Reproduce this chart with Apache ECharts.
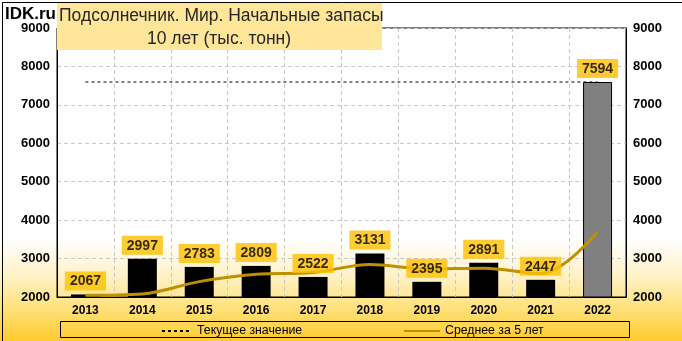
<!DOCTYPE html>
<html><head><meta charset="utf-8">
<script src="https://cdn.jsdelivr.net/npm/echarts@6/dist/echarts.min.js"></script>
<style>html,body{margin:0;padding:0;background:#fff}#c{width:682px;height:341px}</style>
</head><body><div id="c"></div>
<script>
const years = ['2013','2014','2015','2016','2017','2018','2019','2020','2021','2022'];
const stocks = [2067,2997,2783,2809,2522,3131,2395,2891,2447,7594];
const currentValue = [7594,7594,7594,7594,7594,7594,7594,7594,7594,7594];
const avg5 = [2045,2080,2400,2590,2636,2848,2728,2750,2610,3692];
const yTicks = [2000,3000,4000,5000,6000,7000,8000,9000];

const chart = echarts.init(document.getElementById('c'), null, {renderer:'canvas'});
const axisFont = {fontFamily:'Liberation Sans', fontWeight:'bold', fontSize:13, color:'#000', formatter:v=>String(v)};
const barData = stocks.map((v,i)=> i===stocks.length-1
  ? {value:v, itemStyle:{color:'#808080', borderColor:'#000', borderWidth:1}}
  : {value:v});
chart.setOption({
  animation:false,
  backgroundColor:{type:'linear',x:0,y:0,x2:0,y2:1,colorStops:[
    {offset:0,color:'#ffffff'},{offset:0.7,color:'#ffffff'},
    {offset:0.8,color:'#FFF3CC'},{offset:0.9,color:'#FFE27E'},{offset:1,color:'#FFCB2E'}]},
  grid:{left:57,right:56,top:28,bottom:44,show:true,borderColor:'#000',borderWidth:1,backgroundColor:'transparent'},
  xAxis:{type:'category',data:years,boundaryGap:true,
    axisLine:{lineStyle:{color:'#000'}},axisTick:{show:false},
    axisLabel:{margin:8,fontSize:12,fontFamily:'Liberation Sans',fontWeight:'bold',color:'#000'},
    splitLine:{show:true,lineStyle:{color:'#c8c8c8',type:[4,3]}}},
  yAxis:[
    {type:'value',min:2000,max:9000,interval:1000,position:'left',
     axisLine:{show:true,lineStyle:{color:'#000'}},axisTick:{show:false},
     axisLabel:Object.assign({margin:7},axisFont),
     splitLine:{show:true,lineStyle:{color:'#c8c8c8',type:[4,3]}}},
    {type:'value',min:2000,max:9000,interval:1000,position:'right',
     axisLine:{show:true,lineStyle:{color:'#000'}},axisTick:{show:false},
     axisLabel:Object.assign({margin:7},axisFont),splitLine:{show:false}}
  ],
  legend:[
    {data:['Текущее значение'],left:156,top:320,itemWidth:30,itemHeight:8,itemGap:6,
     itemStyle:{opacity:0},
     textStyle:{fontFamily:'Liberation Sans',fontSize:12.3,color:'#000'}},
    {data:['Среднее за 5 лет'],left:398,top:320,itemWidth:36,itemHeight:8,itemGap:4,
     itemStyle:{opacity:0},
     textStyle:{fontFamily:'Liberation Sans',fontSize:12.3,color:'#000'}}
  ],
  series:[
    {name:'Текущее значение',type:'line',data:currentValue,symbol:'none',z:1,
     lineStyle:{color:'#000',width:1,type:[3,3]},itemStyle:{color:'#000'}},
    {name:'Запасы',type:'bar',data:barData,barWidth:29,z:2,itemStyle:{color:'#000'}},
    {name:'Среднее за 5 лет',type:'line',data:avg5,symbol:'none',smooth:0.35,z:3,
     lineStyle:{color:'#BF9000',width:3},itemStyle:{color:'#BF9000'}},
    {name:'labels',type:'scatter',data:stocks,symbolSize:0,z:5,silent:true,
     label:{show:true,position:'top',distance:4,backgroundColor:'#FFC000',
       padding:[3,5,2,5],fontFamily:'Liberation Sans',fontWeight:'bold',fontSize:14,color:'#000'}}
  ],
  graphic:[
    {type:'rect',left:0,top:0,shape:{width:681,height:340},style:{fill:'none',stroke:'#000',lineWidth:1},z:100},
    {type:'rect',left:57,top:2,shape:{width:325,height:48},style:{fill:'#FFE699'},z:50},
    {type:'text',x:59,y:7,style:{text:'Подсолнечник. Мир. Начальные запасы',fontFamily:'Liberation Sans',fontSize:17.5,fill:'#262626'},z:51},
    {type:'text',x:219,y:30,style:{text:'10 лет (тыс. тонн)',fontFamily:'Liberation Sans',fontSize:17.5,fill:'#262626',align:'center'},z:51},
    {type:'text',x:5,y:6,style:{text:'IDK.ru',fontFamily:'Liberation Sans',fontWeight:'bold',fontSize:17,fill:'#000'},z:51},
    {type:'rect',left:58,top:319,shape:{width:569,height:16},style:{fill:'none',stroke:'#000',lineWidth:1},z:40}
  ]
});
</script></body></html>
